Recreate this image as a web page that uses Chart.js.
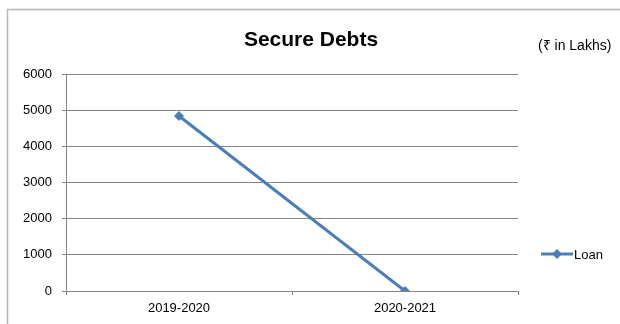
<!DOCTYPE html>
<html>
<head>
<meta charset="utf-8">
<script src="https://cdn.jsdelivr.net/npm/chart.js@4/dist/chart.umd.min.js"></script>
<style>
  html, body { margin: 0; padding: 0; background: #fff; }
  #wrap { position: relative; width: 620px; height: 324px; }
</style>
</head>
<body>
<div id="wrap"><canvas id="debtChart" width="620" height="324"></canvas></div>
<script>
// Chart data
const years = ['2019-2020', '2020-2021'];
const loanValues = [4840, 0];
const yTicks = [0, 1000, 2000, 3000, 4000, 5000, 6000];

const FONT = '"Liberation Sans", Arial, sans-serif';
const LINE_BLUE = '#4a7ebb';

// Frame, title, unit note and legend drawn on the canvas
const decorPlugin = {
    id: 'decor',
    beforeDraw: function(chart) {
        const ctx = chart.ctx;
        ctx.save();
        ctx.fillStyle = '#fff';
        ctx.fillRect(0, 0, chart.width, chart.height);
        ctx.strokeStyle = '#b5b5b5';
        ctx.lineWidth = 1.5;
        ctx.strokeRect(7.5, 9.5, 700, 400);
        ctx.restore();
    },
    afterDraw: function(chart) {
        const ctx = chart.ctx;
        ctx.save();
        ctx.fillStyle = '#000';
        ctx.textBaseline = 'middle';
        ctx.textAlign = 'center';
        ctx.font = 'bold 21px ' + FONT;
        ctx.fillText('Secure Debts', 311, 40);
        ctx.textAlign = 'left';
        ctx.font = '14px ' + FONT;
        ctx.fillText('(₹ in Lakhs)', 538, 46);

        // legend
        const ly = 254;
        ctx.strokeStyle = LINE_BLUE;
        ctx.lineWidth = 3;
        ctx.beginPath();
        ctx.moveTo(541, ly);
        ctx.lineTo(573, ly);
        ctx.stroke();
        ctx.fillStyle = LINE_BLUE;
        ctx.beginPath();
        ctx.moveTo(557, ly - 5);
        ctx.lineTo(562, ly);
        ctx.lineTo(557, ly + 5);
        ctx.lineTo(552, ly);
        ctx.closePath();
        ctx.fill();
        ctx.fillStyle = '#000';
        ctx.font = '13px ' + FONT;
        ctx.fillText('Loan', 574, ly + 1);
        ctx.restore();
    }
};

const ctx = document.getElementById('debtChart').getContext('2d');
const debtChart = new Chart(ctx, {
    type: 'line',
    data: {
        labels: years,
        datasets: [{
            label: 'Loan',
            data: loanValues,
            borderColor: LINE_BLUE,
            backgroundColor: LINE_BLUE,
            borderWidth: 3,
            pointStyle: 'rectRot',
            pointRadius: 5,
            pointBorderWidth: 0,
            tension: 0
        }]
    },
    options: {
        responsive: false,
        animation: false,
        layout: {
            padding: { left: 0, right: 102, top: 74, bottom: 0 }
        },
        plugins: {
            legend: { display: false },
            title: { display: false },
            tooltip: { enabled: false }
        },
        scales: {
            x: {
                offset: true,
                grid: {
                    offset: true,
                    drawOnChartArea: false,
                    tickLength: 4,
                    color: '#868686'
                },
                border: { color: '#868686' },
                ticks: {
                    color: '#000',
                    font: { family: FONT, size: 13 },
                    padding: 6
                },
                afterFit: function(scale) { scale.height = 33; }
            },
            y: {
                min: 0,
                max: 6000,
                afterBuildTicks: function(scale) {
                    scale.ticks = yTicks.map(v => ({ value: v }));
                },
                grid: {
                    color: '#868686',
                    tickLength: 4
                },
                border: { color: '#868686' },
                ticks: {
                    color: '#000',
                    font: { family: FONT, size: 13 },
                    padding: 10,
                    callback: function(value) { return String(value); }
                },
                afterFit: function(scale) { scale.width = 66; }
            }
        }
    },
    plugins: [decorPlugin]
});
</script>
</body>
</html>
